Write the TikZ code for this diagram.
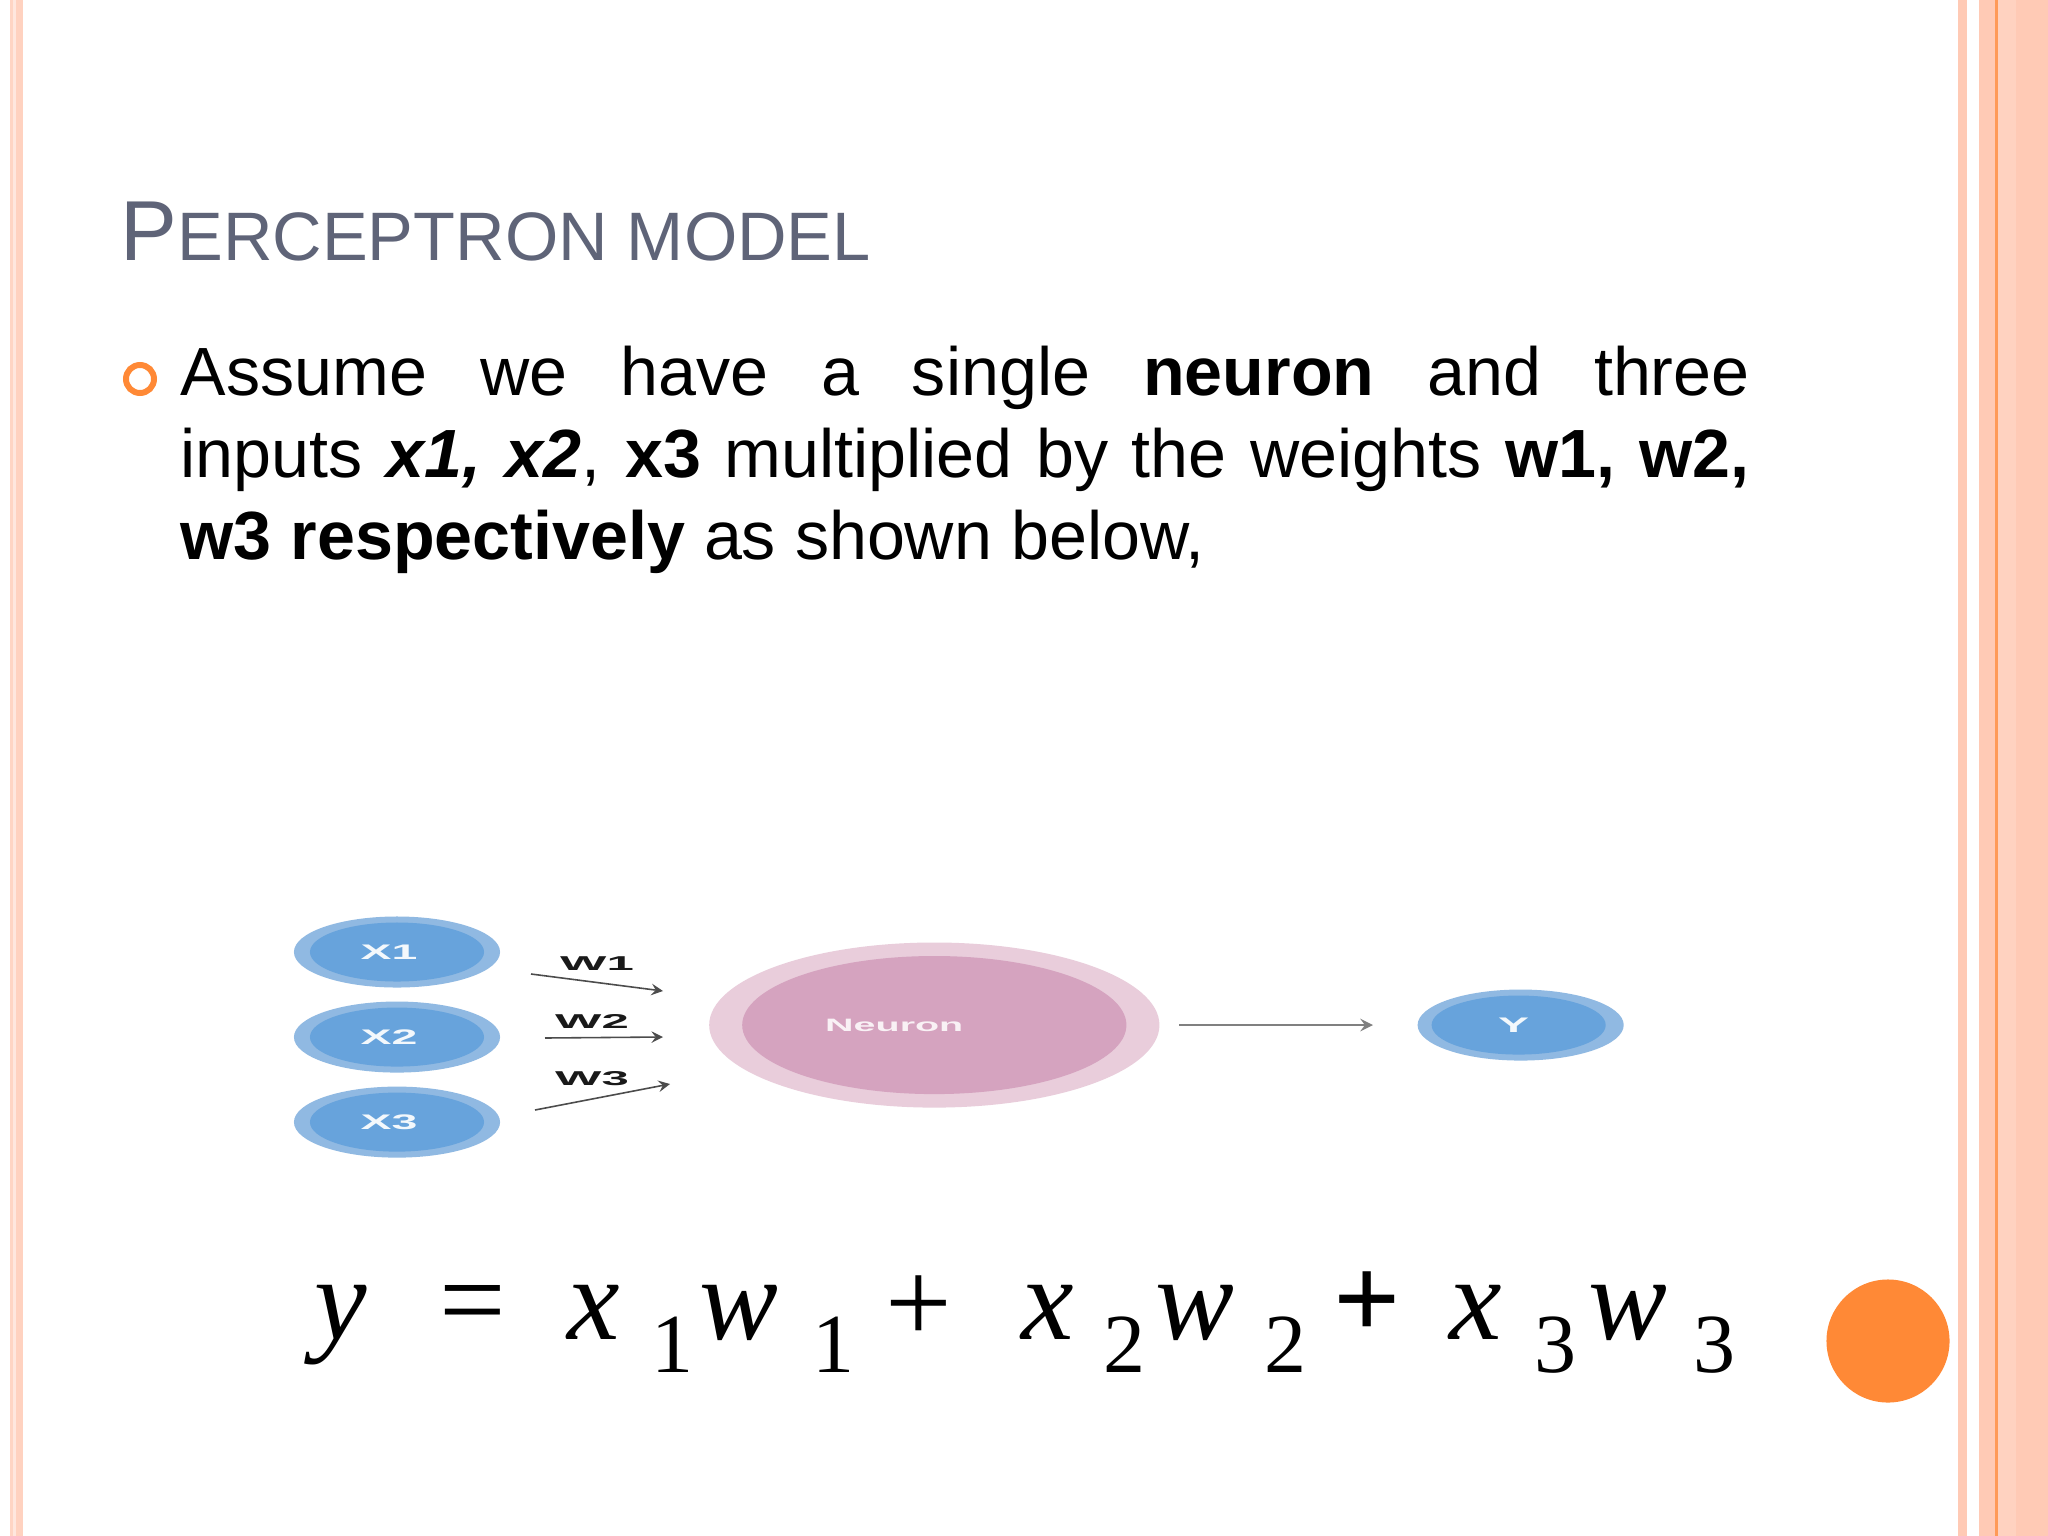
\documentclass[tikz,border=0pt]{standalone}
\usepackage{graphicx}
\usepackage{fontspec}
\setmainfont{Liberation Sans}
\newfontfamily\eqfont{Liberation Serif}
\usetikzlibrary{arrows}
\usetikzlibrary{shapes}
\definecolor{bandpeach}{HTML}{FFCAB5}
\definecolor{bandline}{HTML}{FF9A58}
\definecolor{slideorange}{HTML}{FF8936}
\definecolor{titlegray}{HTML}{5F6478}
\definecolor{ringblue}{HTML}{90B9E2}
\definecolor{coreblue}{HTML}{67A3DC}
\definecolor{ringpink}{HTML}{E9CDDB}
\definecolor{corepink}{HTML}{D5A3BF}
\newcommand{\wide}[2][0cm]{\raisebox{-0.015cm}{\scalebox{2.2}[1]{#2}}\kern#1}
\tikzstyle{inputring} = [ellipse, minimum width=2.06cm, minimum height=0.71cm, inner sep=0pt, fill=ringblue]
\tikzstyle{inputcore} = [ellipse, minimum width=1.74cm, minimum height=0.59cm, inner sep=0pt, fill=coreblue, text=white!92!coreblue, font=\fontsize{6}{7}\selectfont\bfseries]
\tikzstyle{neuronring} = [ellipse, minimum width=4.5cm, minimum height=1.65cm, inner sep=0pt, fill=ringpink]
\tikzstyle{neuroncore} = [ellipse, minimum width=3.84cm, minimum height=1.38cm, inner sep=0pt, fill=corepink, text=white!85!corepink, font=\fontsize{5.1}{6}\selectfont\bfseries]
\tikzstyle{weightlabel} = [inner sep=0pt, anchor=south, text=black!90, font=\fontsize{5.7}{7}\selectfont\bfseries]
\tikzstyle{eqletter} = [inner sep=0pt, anchor=base, font=\fontsize{33.6}{36}\eqfont\itshape]
\tikzstyle{eqsub} = [inner sep=0pt, anchor=base, font=\fontsize{23.9}{26}\eqfont]
\tikzstyle{eqop} = [inner sep=0pt, anchor=base, font=\fontsize{33.6}{36}\eqfont]
\tikzstyle{arrow} = [line width=0.45pt, draw=black!70, ->, >=stealth]
\tikzstyle{outarrow} = [line width=0.6pt, draw=black!50, ->, >=stealth]

\begin{document}
\begin{tikzpicture}[x=0.01cm, y=-0.01cm, node distance=0.85cm]
\useasboundingbox (0,0) rectangle (2048,1536);

% slide frame
\fill [white] (0,0) rectangle (2048,1536);
\fill [bandpeach!80] (10,0) rectangle (13,1536);
\fill [bandpeach!45] (13,0) rectangle (16,1536);
\fill [bandpeach!85] (16,0) rectangle (23,1536);
\fill [bandpeach] (1958,0) rectangle (1967,1536);
\fill [bandpeach] (1979,0) rectangle (2048,1536);
\fill [bandpeach!85] (1998,0) rectangle (2016,1536);
\fill [bandline] (1995,0) rectangle (1998,1536);

\node [inner sep=0pt, anchor=base west, text=titlegray] (title) at (120,260) {\fontsize{24.2}{28}\selectfont P\fontsize{19.5}{28}\selectfont ERCEPTRON MODEL};
\node [circle, draw=slideorange, line width=1.7pt, fill=white, minimum size=0.28cm, inner sep=0pt] (bullet) at (140,379) {};
\node [inner sep=0pt, anchor=north west, text width=15.68cm, align=justify, font=\fontsize{19.4}{23.33}\selectfont] (body) at (180,345) {Assume we have a single \textbf{neuron} and three\linebreak inputs \textbf{\textit{x1, x2}}, \textbf{x3} multiplied by the weights \textbf{w1, w2,}\linebreak \textbf{w3 respectively} as shown below,};

% inputs
\node [inputring] (x1ring) at (397,952) {};
\node [inputcore] (x1) at (397,952) {\wide[0.16cm]{X1}};
\node [inputring, below of=x1ring] (x2ring) {};
\node [inputcore, below of=x1] (x2) {\wide[0.16cm]{X2}};
\node [inputring, below of=x2ring] (x3ring) {};
\node [inputcore, below of=x2] (x3) {\wide[0.16cm]{X3}};

% neuron and output
\node [neuronring, right of=x2ring, node distance=5.37cm, yshift=0.12cm] (neuronback) {};
\node [neuroncore, right of=x2ring, node distance=5.37cm, yshift=0.12cm] (neuron) {\wide[0.8cm]{Neuron}};
\node [inputring, right of=neuronback, node distance=5.86cm] (outring) {};
\node [inputcore, right of=neuronback, node distance=5.84cm] (out) {\wide[0.1cm]{Y}};

\coordinate (w1start) at (531,974);
\coordinate (w1end) at (663,991);
\coordinate (w2start) at (545,1038);
\coordinate (w2end) at (663,1037);
\coordinate (w3start) at (535,1110);
\coordinate (w3end) at (670,1084);
\coordinate (outstart) at (1179,1025);
\coordinate (outend) at (1373,1025);

\draw [arrow] (w1start) -- node[weightlabel, yshift=0.115cm] (w1) {\scalebox{2.45}[1]{W1}} (w1end);
\draw [arrow] (w2start) -- node[weightlabel, xshift=-0.12cm, yshift=0.085cm] (w2) {\scalebox{2.45}[1]{W2}} (w2end);
\draw [arrow] (w3start) -- node[weightlabel, xshift=-0.105cm, yshift=0.10cm] (w3) {\scalebox{2.45}[1]{W3}} (w3end);
\draw [outarrow] (outstart) -- (outend);

% equation
\node [eqletter] (eqy) at (341,1339) {y};
\node [eqop] (eqequals) at (473,1339) {=};
\node [eqletter] (eqx1) at (594,1339) {x};
\node [eqsub] (eqxs1) at (673,1372) {1};
\node [eqletter] (eqw1) at (739,1339) {w};
\node [eqsub] (eqws1) at (834,1372) {1};
\node [eqop] (eqplus1) at (919,1342) {+};
\node [eqletter] (eqx2) at (1048,1339) {x};
\node [eqsub] (eqxs2) at (1125,1372) {2};
\node [eqletter] (eqw2) at (1195,1339) {w};
\node [eqsub] (eqws2) at (1285,1372) {2};
\node [eqop, font=\fontsize{33.6}{36}\eqfont\bfseries] (eqplus2) at (1367,1338) {+};
\node [eqletter] (eqx3) at (1476,1339) {x};
\node [eqsub] (eqxs3) at (1555,1372) {3};
\node [eqletter] (eqw3) at (1628,1339) {w};
\node [eqsub] (eqws3) at (1714,1372) {3};

\node [circle, fill=slideorange, minimum size=1.23cm, inner sep=0pt] (dot) at (1888,1341) {};

\end{tikzpicture}
\end{document}
